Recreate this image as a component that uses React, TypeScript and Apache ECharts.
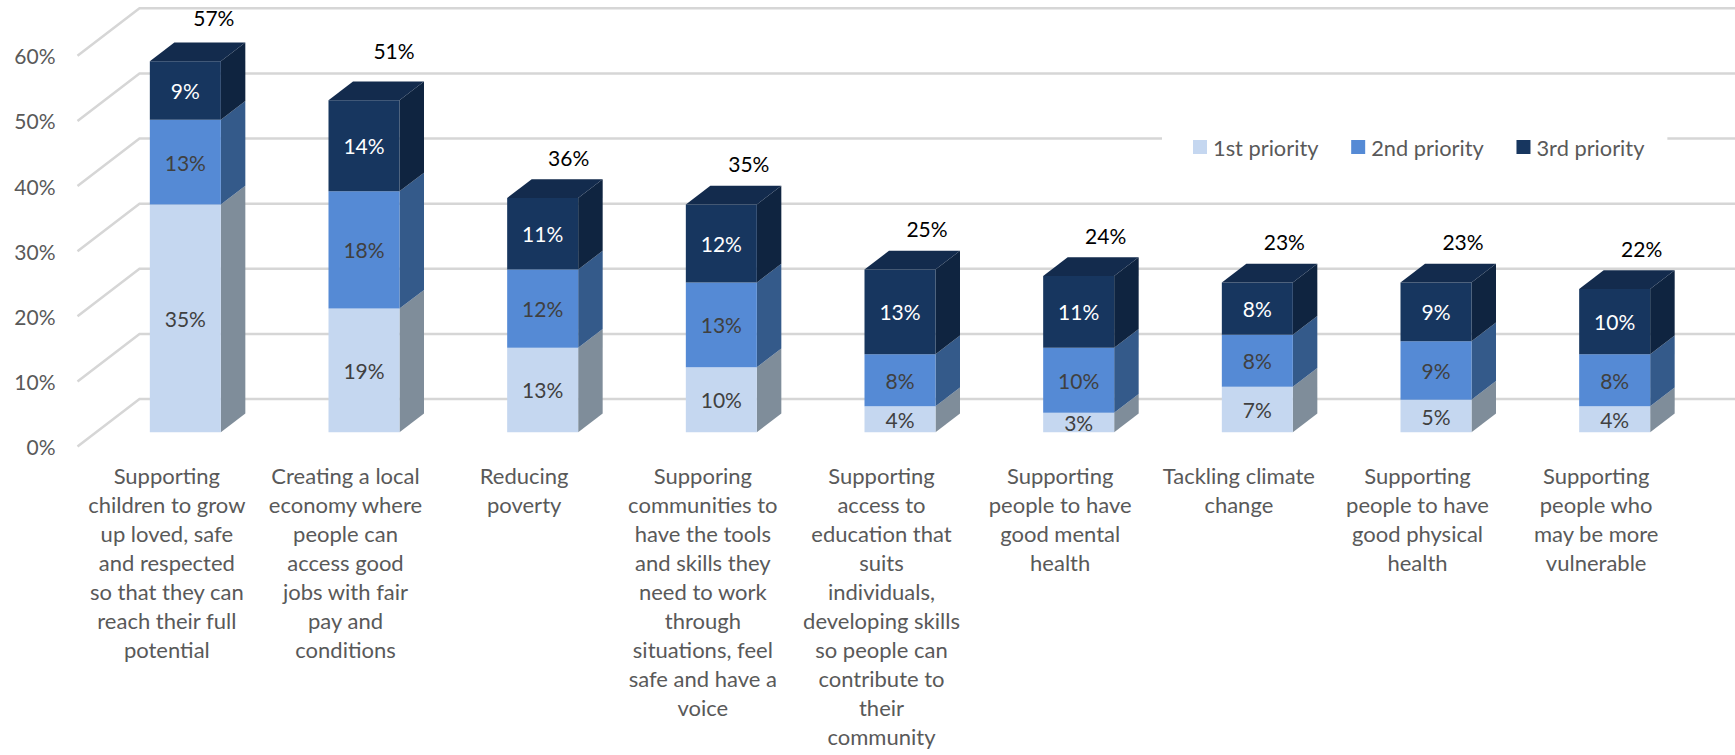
import React, { useEffect, useRef } from "react";
import * as echarts from "echarts";

const categories = [
  "Supporting\nchildren to grow\nup loved, safe\nand respected\nso that they can\nreach their full\npotential",
  "Creating a local\neconomy where\npeople can\naccess good\njobs with fair\npay and\nconditions",
  "Reducing\npoverty",
  "Supporing\ncommunities to\nhave the tools\nand skills they\nneed to work\nthrough\nsituations, feel\nsafe and have a\nvoice",
  "Supporting\naccess to\neducation that\nsuits\nindividuals,\ndeveloping skills\nso people can\ncontribute to\ntheir\ncommunity",
  "Supporting\npeople to have\ngood mental\nhealth",
  "Tackling climate\nchange",
  "Supporting\npeople to have\ngood physical\nhealth",
  "Supporting\npeople who\nmay be more\nvulnerable",
];
const first = [35, 19, 13, 10, 4, 3, 7, 5, 4];
const second = [13, 18, 12, 13, 8, 10, 8, 9, 8];
const third = [9, 14, 11, 12, 13, 11, 8, 9, 10];
const totals = [57, 51, 36, 35, 25, 24, 23, 23, 22];
const ticks = [0, 10, 20, 30, 40, 50, 60];

// style constants
const FONT = "Lato";
const FS = 21;
const FS_TEXT = 22;
const BAR_W = 71;
const FRONT_DX = 18.5;
const FRONT_DY = -14.2;
const DEPTH_DX = 24.5;
const DEPTH_DY = -18.7;
const WALL_DX = 62;
const WALL_DY = -47.5;
const totalNudgeX = [28.5, 30, 26, 27.5, 27, 27, 27, 27, 27];
const totalNudgeY = [-24.5, -31, -21.5, -22, -22, -22, -22, -22, -22];

const palette = [
  { name: "1st priority", front: "#C5D7F0", side: "#7F8D9A", top: "#9FB0C4", text: "#404040" },
  { name: "2nd priority", front: "#558AD5", side: "#345A8A", top: "#3F6BA5", text: "#404040" },
  { name: "3rd priority", front: "#17365F", side: "#0F2440", top: "#132B4D", text: "#FFFFFF" },
];

function segmentItem(idx: number, drawTop: boolean) {
  return (_: any, api: any) => {
    const cat = api.value(0);
    const lo = api.coord([cat, api.value(1)]);
    const hi = api.coord([cat, api.value(2)]);
    const x0 = lo[0] + FRONT_DX - BAR_W / 2;
    const x1 = x0 + BAR_W;
    const yLo = lo[1] + FRONT_DY;
    const yHi = hi[1] + FRONT_DY;
    const c = palette[idx];
    const children: any[] = [
      {
        type: "polygon",
        shape: {
          points: [
            [x1, yLo],
            [x1 + DEPTH_DX, yLo + DEPTH_DY],
            [x1 + DEPTH_DX, yHi + DEPTH_DY],
            [x1, yHi],
          ],
        },
        style: { fill: c.side },
      },
      { type: "rect", shape: { x: x0, y: yHi, width: BAR_W, height: yLo - yHi }, style: { fill: c.front } },
    ];
    if (drawTop) {
      children.push({
        type: "polygon",
        shape: {
          points: [
            [x0, yHi],
            [x0 + DEPTH_DX, yHi + DEPTH_DY],
            [x1 + DEPTH_DX, yHi + DEPTH_DY],
            [x1, yHi],
          ],
        },
        style: { fill: c.top },
      });
    }
    children.push({
      type: "text",
      style: {
        text: api.value(2) - api.value(1) + "%",
        x: (x0 + x1) / 2,
        y: (yLo + yHi) / 2,
        align: "center",
        verticalAlign: "middle",
        fill: c.text,
        font: `${FS}px ${FONT}`,
      },
    });
    return { type: "group", children };
  };
}

function stackData(lows: number[], values: number[]) {
  return values.map((v, i) => [i, lows[i], lows[i] + v]);
}

export default function App() {
  const ref = useRef<HTMLDivElement>(null);
  useEffect(() => {
    const chart = echarts.init(ref.current!, null, { renderer: "svg" });
    const firstSecond = first.map((v, i) => v + second[i]);
    const zeros = first.map(() => 0);
    chart.setOption({
      animation: false,
      backgroundColor: "#fff",
      textStyle: { fontFamily: FONT },
      grid: { left: 77.5, top: 55.8, width: 1608, height: 390.7, containLabel: false },
      xAxis: {
        type: "category",
        data: categories,
        axisLine: { show: false },
        axisTick: { show: false },
        axisLabel: {
          interval: 0,
          margin: 14,
          fontFamily: FONT,
          fontSize: FS_TEXT,
          lineHeight: 29,
          color: "#595959",
          align: "center",
          verticalAlign: "top",
        },
      },
      yAxis: {
        type: "value",
        min: 0,
        max: 60,
        interval: 10,
        splitLine: { show: false },
        axisLine: { show: false },
        axisTick: { show: false },
        axisLabel: { formatter: "{value}%", margin: 22, fontFamily: FONT, fontSize: FS, color: "#595959" },
      },
      legend: {
        show: true,
        data: palette.map((p) => p.name),
        left: 1162,
        top: 130,
        padding: [6, 23, 6, 31],
        backgroundColor: "#fff",
        itemWidth: 14,
        itemHeight: 14,
        itemGap: 32.75,
        icon: "rect",
        selectedMode: false,
        textStyle: { fontFamily: FONT, fontSize: 21.8, color: "#595959", padding: [0, 0, 0, 1] },
      },
      series: [
        {
          type: "custom",
          name: "grid",
          silent: true,
          z: 1,
          data: ticks.map((t) => [0, t]),
          encode: { x: 0, y: 1 },
          renderItem: (params: any, api: any) => {
            const sys = params.coordSys;
            const y = api.coord([0, api.value(1)])[1];
            return {
              type: "polyline",
              shape: {
                points: [
                  [sys.x, y],
                  [sys.x + WALL_DX, y + WALL_DY],
                  [sys.x + sys.width + WALL_DX, y + WALL_DY],
                ],
              },
              style: { stroke: "#D6D6D6", lineWidth: 2.5, fill: "none" },
            };
          },
        },
        {
          type: "custom",
          name: palette[0].name,
          z: 2,
          itemStyle: { color: palette[0].front },
          data: stackData(zeros, first),
          encode: { x: 0, y: 2 },
          renderItem: segmentItem(0, false),
        },
        {
          type: "custom",
          name: palette[1].name,
          z: 3,
          itemStyle: { color: palette[1].front },
          data: stackData(first, second),
          encode: { x: 0, y: 2 },
          renderItem: segmentItem(1, false),
        },
        {
          type: "custom",
          name: palette[2].name,
          z: 3,
          itemStyle: { color: palette[2].front },
          data: stackData(firstSecond, third),
          encode: { x: 0, y: 2 },
          renderItem: segmentItem(2, true),
        },
        {
          type: "custom",
          name: "Total",
          z: 3,
          data: totals.map((t, i) => [i, t]),
          encode: { x: 0, y: 1 },
          renderItem: (_: any, api: any) => {
            const i = api.value(0);
            const p = api.coord([i, api.value(1)]);
            return {
              type: "text",
              style: {
                text: api.value(1) + "%",
                x: p[0] + FRONT_DX + totalNudgeX[i],
                y: p[1] + FRONT_DY + DEPTH_DY + totalNudgeY[i],
                align: "center",
                verticalAlign: "middle",
                fill: "#000000",
                font: `${FS}px ${FONT}`,
              },
            };
          },
        },
      ],
    });
    return () => chart.dispose();
  }, []);
  return <div ref={ref} style={{ position: "fixed", left: 0, top: 0, width: 1735, height: 755 }} />;
}
